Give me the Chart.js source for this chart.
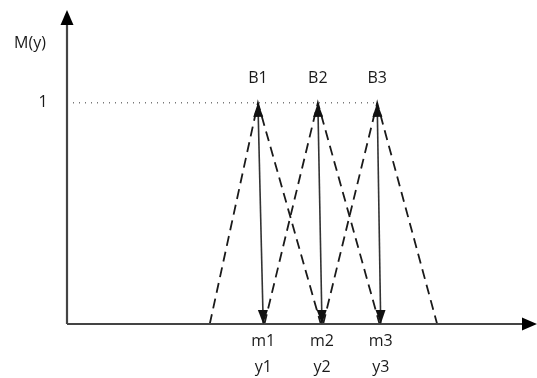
<!DOCTYPE html>
<html lang="en">
<head>
    <meta charset="UTF-8">
    <title>Membership functions B1 B2 B3</title>
    <script src="https://cdn.jsdelivr.net/npm/chart.js"></script>
    <style>
        body { margin: 0; background: #fff; }
        #wrap { width: 537px; height: 378px; position: relative; }
    </style>
</head>
<body>
    <div id="wrap"><canvas id="fuzzyChart"></canvas></div>

    <script>
        // values (x in arbitrary units, 0..8 along the axis)
        const setNames = ['B1', 'B2', 'B3'];
        const meanNames = ['m1', 'm2', 'm3'];
        const outNames = ['y1', 'y2', 'y3'];
        const peakX = [3.25, 4.27, 5.28];
        const baseX = [3.34, 4.34, 5.34];
        const footLeft = [2.43, 3.36, 4.36];
        const footRight = [4.32, 5.32, 6.30];
        const peakY = 1;
        const yLabel = 'M(y)';

        const ink = '#1a1a1a';
        const font = '16px "Open Sans", sans-serif';

        const datasets = [];
        // dashed triangles
        setNames.forEach((name, i) => {
            datasets.push({
                label: name,
                data: [{ x: footLeft[i], y: 0 }, { x: peakX[i], y: peakY }, { x: footRight[i], y: 0 }],
                borderColor: ink, borderWidth: 1.8, borderDash: [10, 6], pointRadius: 0, fill: false
            });
        });
        // vertical double arrows
        setNames.forEach((name, i) => {
            datasets.push({
                label: 'arrow ' + name,
                data: [{ x: peakX[i], y: peakY }, { x: baseX[i], y: 0 }],
                borderColor: '#333', borderWidth: 1.6, pointRadius: 0, fill: false
            });
        });
        // dotted level line at 1
        datasets.push({
            label: 'level',
            data: [{ x: 0, y: peakY }, { x: peakX[2], y: peakY }],
            borderColor: '#777', borderWidth: 1.5, borderDash: [1, 5], pointRadius: 0, fill: false
        });

        function arrowHead(ctx, x, y, dx, dy, len, half) {
            // tip at (x, y), pointing along (dx, dy)
            const n = Math.hypot(dx, dy);
            const ux = dx / n, uy = dy / n;
            ctx.beginPath();
            ctx.moveTo(x, y);
            ctx.lineTo(x - ux * len - uy * half, y - uy * len + ux * half);
            ctx.lineTo(x - ux * len + uy * half, y - uy * len - ux * half);
            ctx.closePath();
            ctx.fill();
        }

        const drawExtras = {
            id: 'drawExtras',
            afterDatasetsDraw(chart) {
                const ctx = chart.ctx;
                const xs = chart.scales.x, ys = chart.scales.y;
                const area = chart.chartArea;
                const x0 = xs.getPixelForValue(0), y0 = ys.getPixelForValue(0);
                ctx.save();

                // axes
                ctx.strokeStyle = '#444';
                ctx.fillStyle = '#000';
                ctx.lineWidth = 2.2;
                ctx.beginPath();
                ctx.moveTo(x0, y0);
                ctx.lineTo(x0, area.top + 10);
                ctx.moveTo(x0, y0);
                ctx.lineTo(area.right - 10, y0);
                ctx.stroke();
                arrowHead(ctx, x0, area.top, 0, -1, 15, 6.5);
                arrowHead(ctx, area.right, y0, 1, 0, 15, 6.5);

                // arrowheads on vertical arrows
                ctx.fillStyle = '#111';
                setNames.forEach((n, i) => {
                    const tx = xs.getPixelForValue(peakX[i]), ty = ys.getPixelForValue(peakY);
                    const bx = xs.getPixelForValue(baseX[i]), by = ys.getPixelForValue(0);
                    arrowHead(ctx, tx, ty, tx - bx, ty - by, 14, 5);
                    arrowHead(ctx, bx, by, bx - tx, by - ty, 14, 5);
                });

                // text
                ctx.fillStyle = ink;
                ctx.font = font;
                ctx.textAlign = 'center';
                ctx.textBaseline = 'middle';
                setNames.forEach((n, i) => {
                    ctx.fillText(n, xs.getPixelForValue(peakX[i]), ys.getPixelForValue(peakY) - 24);
                    ctx.fillText(meanNames[i], xs.getPixelForValue(baseX[i]), y0 + 17);
                    ctx.fillText(outNames[i], xs.getPixelForValue(baseX[i]), y0 + 43);
                });
                ctx.fillText('1', x0 - 24, ys.getPixelForValue(peakY));
                ctx.fillText(yLabel, x0 - 37, area.top + 33);
                ctx.restore();
            }
        };

        new Chart(document.getElementById('fuzzyChart').getContext('2d'), {
            type: 'line',
            data: { datasets: datasets },
            options: {
                responsive: true,
                maintainAspectRatio: false,
                animation: false,
                layout: { padding: { left: 67, right: 0, top: 10, bottom: 54 } },
                scales: {
                    x: { type: 'linear', min: 0, max: 8, display: false },
                    y: { type: 'linear', min: 0, max: 1.42, display: false }
                },
                plugins: { legend: { display: false }, tooltip: { enabled: false } }
            },
            plugins: [drawExtras]
        });
    </script>
</body>
</html>
